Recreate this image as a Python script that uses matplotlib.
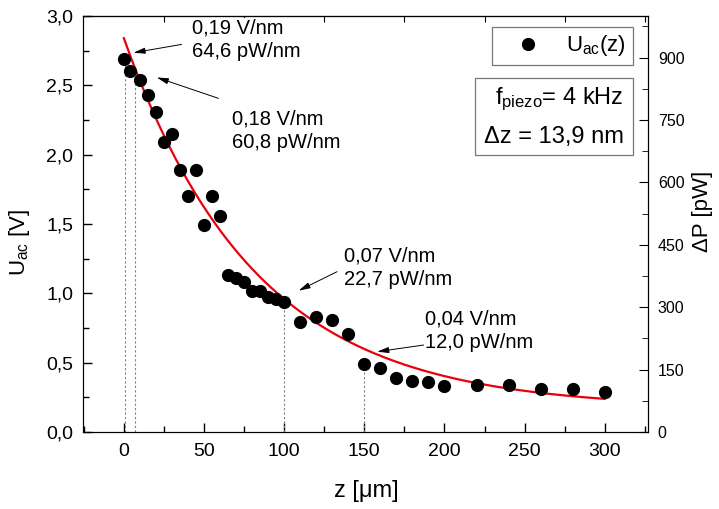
import numpy as np
import matplotlib.pyplot as plt
from matplotlib.patches import Rectangle
from matplotlib.ticker import MultipleLocator, FuncFormatter

plt.rcParams['font.family'] = ['Liberation Sans', 'DejaVu Sans']
plt.rcParams['mathtext.default'] = 'regular'

z = [0, 4, 10, 15, 20, 25, 30, 35, 40, 45, 50, 55, 60, 65, 70, 75, 80, 85, 90, 95,
     100, 110, 120, 130, 140, 150, 160, 170, 180, 190, 200, 220, 240, 260, 280, 300]
u_ac = [2.69, 2.60, 2.54, 2.43, 2.31, 2.09, 2.15, 1.89, 1.70, 1.89, 1.49, 1.70, 1.56,
        1.13, 1.11, 1.08, 1.02, 1.02, 0.97, 0.96, 0.94, 0.79, 0.83, 0.81, 0.71, 0.49,
        0.46, 0.39, 0.37, 0.36, 0.33, 0.34, 0.34, 0.31, 0.31, 0.29]

# exponential fit y0 + A*exp(-z/t), parameters estimated from the red curve
fit_y0, fit_a, fit_t = 0.17, 2.67, 82.0

# slope markers: dotted verticals and the labels next to them
mark_z = [1, 7, 100, 150]
mark_u = [2.66, 2.56, 0.90, 0.45]
labels = ['0,19 V/nm\n64,6 pW/nm', '0,18 V/nm\n60,8 pW/nm',
          '0,07 V/nm\n22,7 pW/nm', '0,04 V/nm\n12,0 pW/nm']
label_xy = [(42.7, 2.826), (67.7, 2.170), (137.5, 1.186), (188, 0.732)]
arrow_tail = [(36, 2.795), (59, 2.406), (133, 1.156), (187, 0.627)]
arrow_head = [(6, 2.735), (20.5, 2.557), (109, 1.019), (158, 0.579)]

fig = plt.figure(figsize=(7.19, 5.09), dpi=100)
ax = fig.add_axes([0.1154, 0.1513, 0.7859, 0.8173])

for zz, uu in zip(mark_z, mark_u):
    ax.plot([zz, zz], [0, uu], ls=(0, (2, 2)), color='gray', lw=0.8)

zf = np.linspace(0, 300, 300)
ax.plot(zf, fit_y0 + fit_a * np.exp(-zf / fit_t), color='#e8000b', lw=1.6, zorder=3)
ax.plot(z, u_ac, 'o', color='black', ms=8.5, ls='none', label='U$_{ac}$(z)', zorder=4)

for lab, (tx, ty), tail, head in zip(labels, label_xy, arrow_tail, arrow_head):
    ax.text(tx, ty, lab, ha='left', va='center', fontsize=14.5, linespacing=1.3,
            bbox=dict(facecolor='white', edgecolor='none', pad=0.5), clip_on=False, zorder=5)
    ax.annotate('', xy=head, xytext=tail,
                arrowprops=dict(arrowstyle='-|>,head_length=0.7,head_width=0.18',
                                color='black', lw=0.7, shrinkA=0, shrinkB=0))

ax.set_xlim(-25.5, 327)
ax.set_ylim(0, 3.0)
ax.xaxis.set_major_locator(MultipleLocator(50))
ax.xaxis.set_minor_locator(MultipleLocator(25))
ax.yaxis.set_major_locator(MultipleLocator(0.5))
ax.yaxis.set_minor_locator(MultipleLocator(0.25))
ax.yaxis.set_major_formatter(FuncFormatter(lambda v, p: f'{v:.1f}'.replace('.', ',')))
ax.tick_params(which='both', direction='in', labelsize=14, top=False, right=False)
ax.tick_params(which='major', length=6.5, width=1)
ax.tick_params(which='minor', length=4.3, width=1)
ax.tick_params(axis='y', pad=7)
ax.tick_params(axis='x', pad=8)
ax.set_xlabel('z [\u03bcm]', fontsize=17)
ax.xaxis.set_label_coords(0.501, -0.115)
ax.set_ylabel('U$_{ac}$ [V]', fontsize=16)
ax.yaxis.set_label_coords(-0.09, 0.455)

top = ax.secondary_xaxis('top')
top.set_xticks(np.arange(25, 330, 50))
top.tick_params(direction='in', length=4.3, labeltop=False)

leg = ax.legend(loc='upper right', bbox_to_anchor=(0.973, 0.974), borderaxespad=0,
                fontsize=16, handletextpad=0.35, handlelength=2.7, fancybox=False,
                framealpha=1, edgecolor='#777777', borderpad=0.3)
leg.get_frame().set_linewidth(0.9)

# parameter box
ax.add_patch(Rectangle((0.6938, 0.6659), 0.2791, 0.1843, transform=ax.transAxes,
                       facecolor='white', edgecolor='#777777', lw=0.9, zorder=5))
ax.text(0.9558, 0.7877, 'f$_{piezo}$= 4 kHz', transform=ax.transAxes,
        ha='right', va='baseline', fontsize=17, zorder=6)
ax.text(0.9575, 0.694, '\u0394z = 13,9 nm', transform=ax.transAxes,
        ha='right', va='baseline', fontsize=17, zorder=6)

ax2 = ax.twinx()
ax2.set_ylim(0, 1000)
ax2.yaxis.set_major_locator(MultipleLocator(150))
ax2.yaxis.set_minor_locator(MultipleLocator(75))
ax2.tick_params(which='both', direction='in', labelsize=11.5, pad=7)
ax2.tick_params(which='major', length=6.5)
ax2.tick_params(which='minor', length=4.3)
ax2.set_ylabel('\u0394P [pW]', fontsize=16)
ax2.yaxis.set_label_coords(1.078, 0.53)

fig.savefig('out.png', dpi=100)
